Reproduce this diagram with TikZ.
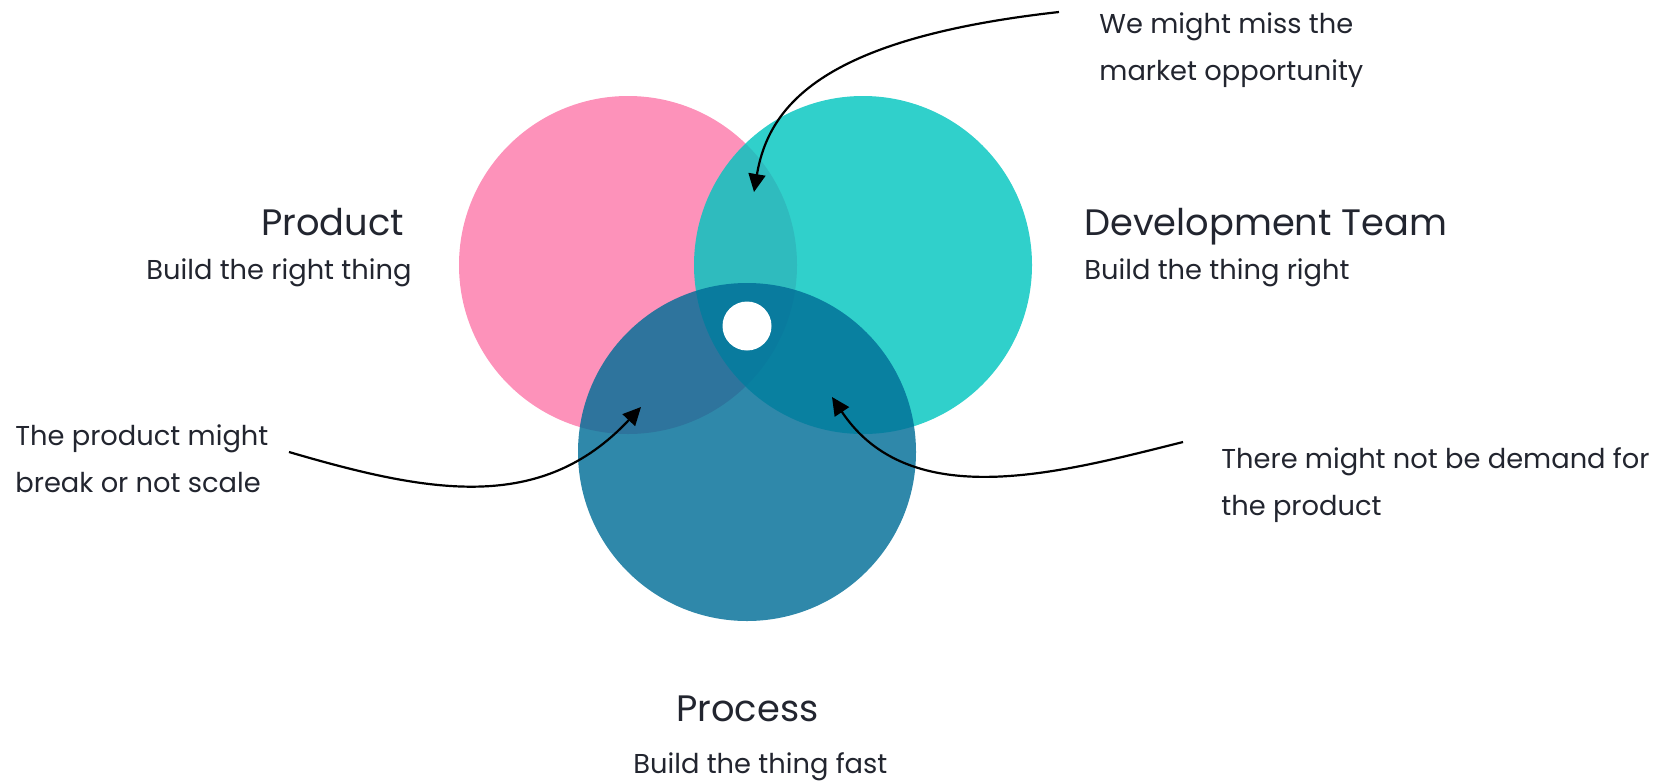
\documentclass[tikz,border=0pt]{standalone}
\usepackage{fontspec}
\setmainfont{Poppins}
\usetikzlibrary{arrows.meta}

\definecolor{pinkc}{RGB}{253,146,186}
\definecolor{tealc}{RGB}{0,197,191}
\definecolor{bluec}{RGB}{1,110,151}
\definecolor{inkc}{RGB}{34,37,47}

\tikzset{
  circ/.style={circle,minimum size=169pt,inner sep=0pt},
  headline/.style={anchor=base west,inner sep=0pt,text=inkc,font=\fontsize{18.4}{22}\selectfont},
  remark/.style={anchor=base west,inner sep=0pt,text=inkc,align=left,font=\fontsize{13.65}{23.4}\selectfont},
  pointer/.style={-{Triangle[length=9pt,width=8.5pt]},line width=1.1pt},
}

\begin{document}
\begin{tikzpicture}[x=0.5pt,y=-0.5pt]
      \useasboundingbox (0,0) rectangle (1669,782);

      % the three circles
      \node[circ,fill=pinkc] (product) at (628,265) {};
      \node[circ,fill=tealc,fill opacity=0.81] (team) at (863,265) {};
      \node[circ,fill=bluec,fill opacity=0.82] (process) at (747,452) {};
      \node[circle,fill=white,minimum size=24.5pt,inner sep=0pt] (core) at (747,326) {};

      % headings
      \node[headline] (productT) at (261,235) {Product};
      \node[remark] (productS) at (146,279) {Build the right thing};
      \node[headline] (teamT) at (1084,235) {Development Team};
      \node[remark] (teamS) at (1084,279) {Build the thing right};
      \node[headline] (processT) at (676,721) {Process};
      \node[remark] (processS) at (633,773) {Build the thing fast};

      % risks (base is the last line)
      \node[remark] (miss) at (1099,80) {We might miss the\\market opportunity};
      \node[remark] (break) at (15,492) {The product might\\break or not scale};
      \node[remark] (demand) at (1221,515) {There might not be demand for\\the product};

      \coordinate (missTail) at (1059,12);
      \coordinate (missTip) at (754,192);
      \coordinate (breakTail) at (289,452);
      \coordinate (breakTip) at (641,407);
      \coordinate (demandTail) at (1183,442);
      \coordinate (demandTip) at (832,397);

      \draw[pointer] (missTail) .. controls (826,38) and (769,103) .. (missTip);
      \draw[pointer] (breakTail) .. controls (429,493) and (541,514) .. (breakTip);
      \draw[pointer] (demandTail) .. controls (1059,473) and (910,514) .. (demandTip);
    \end{tikzpicture}
\end{document}
